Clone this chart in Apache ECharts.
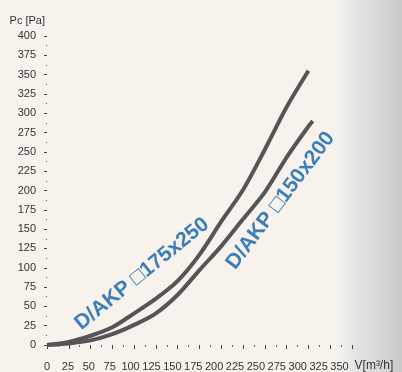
<!DOCTYPE html>
<html>
<head>
<meta charset="utf-8">
<script src="https://cdn.jsdelivr.net/npm/echarts@6/dist/echarts.min.js"></script>
<style>
html,body{margin:0;padding:0;background:#f8f2ed;}
#c{width:402px;height:372px;}
</style>
</head>
<body>
<div id="c"></div>
<script>
// Data (V [m3/h], Pc [Pa])
const flowA = [0, 25, 50, 75, 100, 125, 150, 175, 200, 225, 250, 275, 300];
const pressA = [0, 4, 12, 23, 41, 60, 83, 117, 160, 201, 253, 308, 355];
const flowB = [0, 25, 50, 75, 100, 125, 150, 175, 200, 225, 250, 275, 300, 305];
const pressB = [0, 2, 6, 14, 26, 41, 65, 97, 128, 163, 198, 243, 283, 290];
const curveLabels = ['D/AKP \u25A1175x250', 'D/AKP \u25A1150x200'];
const labelAnchorX = [109, 268];
const labelAnchorY = [92, 187];
const labelAngles = [39, 53];
const yTitle = 'Pc [Pa]';
const xTitle = 'V[m\u00B3/h]';

const chart = echarts.init(document.getElementById('c'), null, {renderer: 'canvas'});
const txt = '#333333';
const lineColor = '#555555';
const blue = '#0a62ad';

chart.setOption({
  backgroundColor: '#f8f2ed',
  animation: false,
  graphic: [{
    type: 'rect',
    left: 333, top: 0, z: -10,
    shape: {width: 69, height: 372},
    style: {
      fill: new echarts.graphic.LinearGradient(0, 0, 1, 0, [
        {offset: 0, color: '#f5f3ed'},
        {offset: 0.15, color: '#efefea'},
        {offset: 0.28, color: '#e6e6e6'},
        {offset: 0.6, color: '#dadada'},
        {offset: 1, color: '#cacaca'}
      ])
    }
  }],
  grid: {left: 47, right: 50, top: 36, bottom: 26, containLabel: false},
  xAxis: [{
    type: 'value', min: 0, max: 350, interval: 25,
    axisLine: {show: false},
    axisTick: {show: true, length: 4, lineStyle: {color: '#444', width: 1}},
    minorTick: {show: true, splitNumber: 2, length: 2, lineStyle: {color: '#666', width: 1}},
    axisLabel: {show: false},
    splitLine: {show: false}
  }, {
    type: 'value', min: 0, max: 365, interval: 25, position: 'bottom',
    axisLine: {show: false}, axisTick: {show: false},
    splitLine: {show: false},
    axisLabel: {show: true, margin: 16, color: txt, fontSize: 11, fontFamily: 'Liberation Sans, Arial', showMaxLabel: false},
    name: xTitle, nameLocation: 'end', nameGap: -6,
    nameTextStyle: {color: txt, fontSize: 12, fontFamily: 'Liberation Sans, Arial', align: 'left', verticalAlign: 'top', padding: [15, 0, 0, 0]}
  }],
  yAxis: {
    type: 'value', min: 0, max: 400, interval: 25,
    axisLine: {show: false},
    axisTick: {show: true, length: 3, lineStyle: {color: '#444', width: 1}},
    minorTick: {show: true, splitNumber: 2, length: 1, lineStyle: {color: '#666', width: 1}},
    splitLine: {show: false},
    axisLabel: {margin: 11, color: txt, fontSize: 11, fontFamily: 'Liberation Sans, Arial'},
    name: yTitle, nameLocation: 'end', nameGap: 10,
    nameTextStyle: {color: txt, fontSize: 11, fontFamily: 'Liberation Sans, Arial', align: 'right', padding: [0, 2, 0, 0]}
  },
  series: [{
    type: 'line', xAxisIndex: 0, smooth: 0.3, symbol: 'none',
    data: flowA.map((x, i) => [x, pressA[i]]),
    lineStyle: {color: lineColor, width: 4}
  }, {
    type: 'line', xAxisIndex: 0, smooth: 0.3, symbol: 'none',
    data: flowB.map((x, i) => [x, pressB[i]]),
    lineStyle: {color: lineColor, width: 4}
  }, {
    type: 'scatter', xAxisIndex: 0, symbolSize: 0, silent: true,
    data: curveLabels.map((t, i) => ({
      value: [labelAnchorX[i], labelAnchorY[i]],
      label: {
        show: true, position: 'inside', formatter: t, rotate: labelAngles[i],
        color: blue, fontSize: 21, fontWeight: 'bold', fontFamily: 'Liberation Sans, Noto Sans CJK SC, Arial',
        align: 'center', verticalAlign: 'middle'
      }
    }))
  }]
});
</script>
</body>
</html>
